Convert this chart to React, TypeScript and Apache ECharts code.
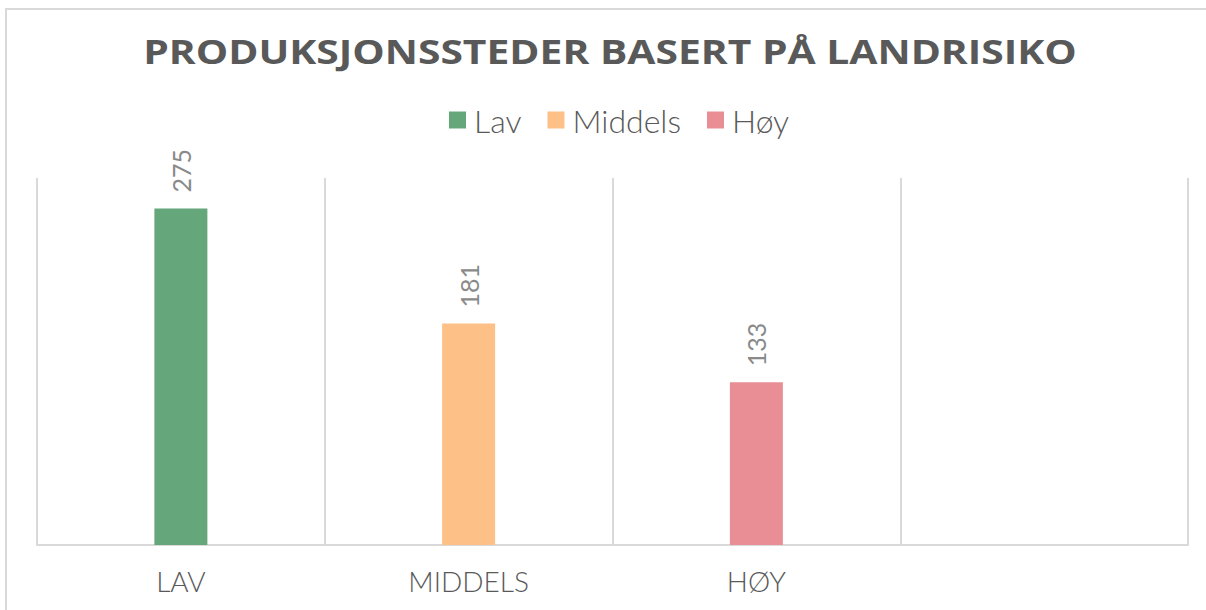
import React, { useEffect, useRef } from "react";
import * as echarts from "echarts";

const categories = ["LAV", "MIDDELS", "HØY", ""];
const seriesNames = ["Lav", "Middels", "Høy"];
const lavValues = [275, null, null, null];
const middelsValues = [null, 181, null, null];
const hoyValues = [null, null, 133, null];
const seriesColors = ["#65a67a", "#fdc087", "#e98e94"];
const titleText = "PRODUKSJONSSTEDER BASERT PÅ LANDRISIKO";

export default function App() {
  const ref = useRef<HTMLDivElement>(null);
  useEffect(() => {
    if (!ref.current) return;
    const chart = echarts.init(ref.current, undefined, { renderer: "svg" });
    const dataSets = [lavValues, middelsValues, hoyValues];
    const label = {
      show: true,
      position: "top",
      rotate: 90,
      align: "left",
      verticalAlign: "middle",
      distance: 16,
      color: "#8a8a8a",
      fontSize: 25,
      fontFamily: "Lato",
      fontWeight: 400,
    };
    chart.setOption({
      animation: false,
      backgroundColor: "#ffffff",
      legend: {
        data: seriesNames,
        top: 99,
        left: 444,
        itemWidth: 17,
        itemHeight: 17,
        itemGap: 26,
        icon: "rect",
        textStyle: {
          fontFamily: "Lato",
          fontWeight: 300,
          fontSize: 32,
          color: "#595959",
          padding: [0, 0, 0, 3],
        },
      },
      graphic: [
        {
          type: "rect",
          shape: { x: 6, y: 9, width: 1220, height: 640 },
          style: { fill: "none", stroke: "#d9d9d9", lineWidth: 2 },
          silent: true,
        },
        {
          type: "text",
          x: 610,
          y: 51,
          scaleX: 1.2,
          style: {
            text: titleText,
            x: 0,
            y: 0,
            align: "center",
            verticalAlign: "middle",
            fontFamily: "Open Sans",
            fontWeight: "bold",
            fontSize: 34,
            fill: "#595959",
          },
          silent: true,
        },
      ],
      grid: { left: 37, right: 18, top: 178, bottom: 65 },
      xAxis: {
        type: "category",
        data: categories,
        boundaryGap: true,
        axisLine: { show: true, lineStyle: { color: "#d9d9d9", width: 2 } },
        axisTick: { show: false },
        splitLine: { show: true, lineStyle: { color: "#d9d9d9", width: 2 } },
        axisLabel: {
          margin: 22,
          fontFamily: "Lato",
          fontWeight: 300,
          fontSize: 28,
          color: "#595959",
        },
      },
      yAxis: {
        type: "value",
        min: 0,
        max: 300,
        show: false,
        splitLine: { show: false },
      },
      series: seriesNames.map((name, i) => ({
        name,
        type: "bar",
        stack: "total",
        barWidth: 53,
        data: dataSets[i],
        itemStyle: { color: seriesColors[i] },
        label,
      })),
    });
    return () => chart.dispose();
  }, []);
  return (
    <div
      ref={ref}
      style={{ position: "fixed", left: 0, top: 0, width: 1206, height: 610 }}
    />
  );
}
